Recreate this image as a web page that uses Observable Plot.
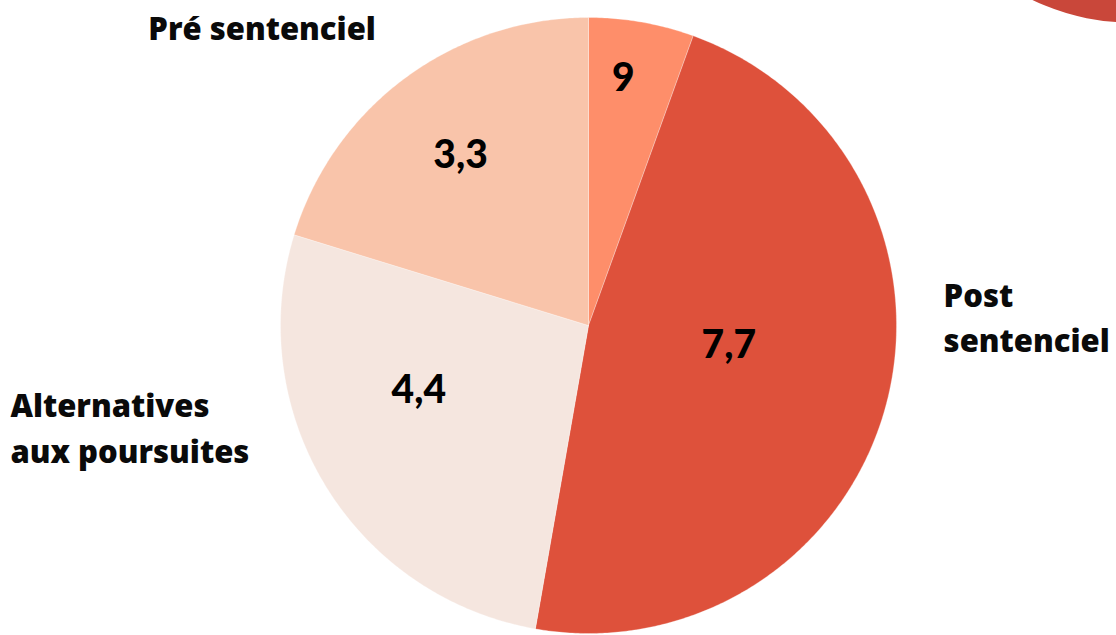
<!DOCTYPE html>
<html>
<head>
<meta charset="utf-8">
<script src="https://cdn.jsdelivr.net/npm/d3@7"></script>
<script src="https://cdn.jsdelivr.net/npm/@observablehq/plot@0.6"></script>
<style>
  html, body { margin: 0; padding: 0; background: #ffffff; }
  #chart svg { display: block; }
</style>
</head>
<body>
<div id="chart"></div>
<script>
// ---- data ----
const categories = ["Non renseigné", "Post sentenciel", "Alternatives aux poursuites", "Pré sentenciel"];
const values = [0.9, 7.7, 4.4, 3.3];
const valueLabels = ["9", "7,7", "4,4", "3,3"];
const categoryLabels = ["", "Post\nsentenciel", "Alternatives\naux poursuites", "Pré sentenciel"];

// ---- style / layout ----
const colors = ["#FE8E6A", "#DE513B", "#F5E6DF", "#F9C4AA"];
const W = 1116, H = 635;
const cx = 588, cy = 325, R = 308; // pixel geometry of the pie
// value label polar placement (degrees clockwise from top, fraction of radius)
const valueLabelAngle = [8, 98, 249, 323];
const valueLabelRadius = [0.81, 0.46, 0.59, 0.69];
// category label anchors (in radius units, relative to the pie centre)
const catLabelX = [null, 1.153, -1.877, -1.429];
const catLabelY = [null, 0.035, -0.325, 0.975];

const pie = d3.pie().sort(null).value(d => d)(values);
const rad = Math.PI / 180;

const slicePts = [];
pie.forEach((p, i) => {
  slicePts.push({slice: i, x: 0, y: 0});
  const n = Math.max(8, Math.ceil((p.endAngle - p.startAngle) / (0.5 * rad)));
  for (let k = 0; k <= n; k++) {
    const a = p.startAngle + (p.endAngle - p.startAngle) * k / n;
    slicePts.push({slice: i, x: Math.sin(a), y: Math.cos(a)});
  }
  slicePts.push({slice: i, x: 0, y: 0});
});

const valueText = values.map((v, i) => ({
  label: valueLabels[i],
  x: valueLabelRadius[i] * Math.sin(valueLabelAngle[i] * rad),
  y: valueLabelRadius[i] * Math.cos(valueLabelAngle[i] * rad)
}));

const catText = categoryLabels
  .map((t, i) => ({label: t, x: catLabelX[i], y: catLabelY[i]}))
  .filter(d => d.label);

const chart = Plot.plot({
  width: W,
  height: H,
  margin: 0,
  style: {fontFamily: "Lato, 'Open Sans', sans-serif", background: "#ffffff"},
  x: {domain: [-cx / R, (W - cx) / R], range: [0, W], axis: null},
  y: {domain: [-(H - cy) / R, cy / R], range: [H, 0], axis: null},
  color: {domain: d3.range(values.length), range: colors},
  marks: [
    // decorative circle in the top-right corner
    Plot.dot([0], {frameAnchor: "top-right", dx: 14, dy: -203, r: 225, fill: "#C9473A", stroke: null}),
    Plot.line(slicePts, {x: "x", y: "y", z: "slice", fill: d => d.slice, stroke: "#ffffff", strokeWidth: 0.6, strokeOpacity: 0.5, curve: "linear"}),
    Plot.text(valueText, {x: "x", y: "y", text: "label", fontSize: 39, fontWeight: 900, fill: "#000000"}),
    Plot.text(catText, {x: "x", y: "y", text: "label", textAnchor: "start", fontSize: 31, fontWeight: 800, lineHeight: 1.47, fill: "#0a0a0a", fontFamily: "'Open Sans', sans-serif"})
  ]
});
document.getElementById("chart").appendChild(chart);
</script>
</body>
</html>
